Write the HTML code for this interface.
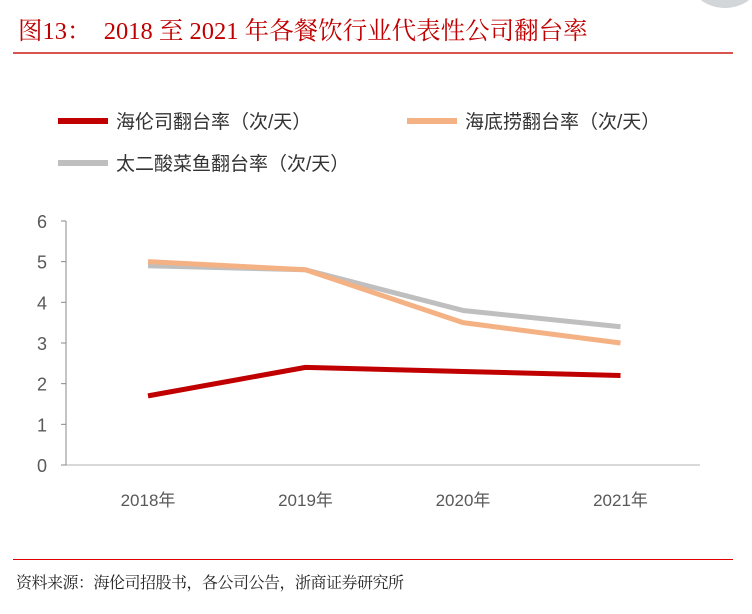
<!DOCTYPE html>
<html><head><meta charset="utf-8"><style>
body{margin:0;width:752px;height:614px;background:#fff;overflow:hidden;position:relative;font-family:"Liberation Sans","Noto Sans CJK SC",sans-serif}
.t{position:absolute;left:18px;top:12px;font-family:"Liberation Serif","Noto Serif CJK SC",serif;font-size:24.5px;color:#c00000;white-space:nowrap}
.src{position:absolute;left:16px;top:570px;font-family:"Liberation Serif","Noto Serif CJK SC",serif;font-size:16px;color:#222;white-space:nowrap;letter-spacing:-0.5px}
</style></head><body>
<div style="position:absolute;left:690px;top:-50px;width:70px;height:58px;border-radius:50%;background:#d3d6d9"></div>
<div class="t">图13：&nbsp; 2018 至 2021 年各餐饮行业代表性公司翻台率</div>
<div style="position:absolute;left:13px;top:52px;width:720px;height:2px;background:#d9534f"></div>
<div style="position:absolute;left:13px;top:559px;width:720px;height:1px;background:#e00000"></div>
<div class="src">资料来源：海伦司招股书，各公司公告，浙商证券研究所</div>
<svg id="c" width="752" height="614" style="position:absolute;left:0;top:0"></svg>
<script>
const categories=["2018年","2019年","2020年","2021年"];
const yTicks=[0,1,2,3,4,5,6];
const seriesNames=["海伦司翻台率（次/天）","海底捞翻台率（次/天）","太二酸菜鱼翻台率（次/天）"];
const helens=[1.7,2.4,2.3,2.2];
const haidilao=[5.0,4.8,3.5,3.0];
const taier=[4.9,4.8,3.8,3.4];
const colors=["#c00000","#f4b183","#bfbfbf"];
const svg=document.getElementById('c');const NS='http://www.w3.org/2000/svg';
function mk(t,a){const e=document.createElementNS(NS,t);for(const k in a)e.setAttribute(k,a[k]);svg.appendChild(e);return e;}
const y=v=>465-v*40.67;
const x=i=>148+i*157.5;
let ax=mk('line',{x1:66,y1:y(0),x2:700,y2:y(0),stroke:'#d9d9d9','stroke-width':2});


let ay=mk('line',{x1:66,y1:y(6),x2:66,y2:y(0),stroke:'#888','stroke-width':1});


yTicks.forEach(v=>{
 const tk=mk('line',{x1:61,y1:y(v),x2:66,y2:y(v),stroke:'#888'});
 
 
 const t=mk('text',{x:47,y:y(v)+7,'text-anchor':'end','font-size':18,fill:'#595959'});t.textContent=v;
 
 
});
categories.forEach((c,i)=>{
 const t=mk('text',{x:x(i),y:506,'text-anchor':'middle','font-size':17,fill:'#595959'});t.textContent=c;
 
 
});
[[helens,'helens-line'],[taier,'taier-line'],[haidilao,'haidilao-line']].forEach(([d,n])=>{
 const ci=n==='helens-line'?0:n==='haidilao-line'?1:2;
 const p=mk('polyline',{points:d.map((v,i)=>x(i)+','+y(v)).join(' '),fill:'none',stroke:colors[ci],'stroke-width':5,'stroke-linejoin':'round'});
 
 
});
const leg=[[58,121,0],[407,121,1],[58,163,2]];
leg.forEach(([lx,ly,i])=>{
 const l=mk('line',{x1:lx,y1:ly,x2:lx+50,y2:ly,stroke:colors[i],'stroke-width':6});
 
 
 const t=mk('text',{x:lx+58,y:ly+7,'font-size':19,fill:'#333'});t.textContent=seriesNames[i];
 
 
});
</script>
</body></html>
